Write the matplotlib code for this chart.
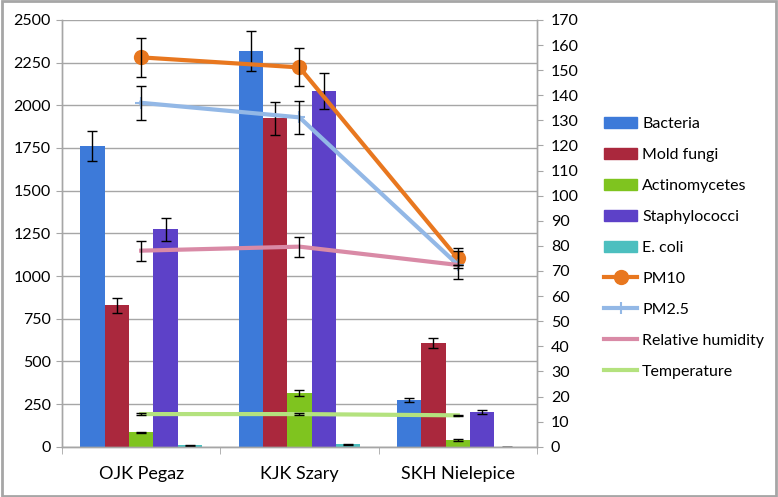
import matplotlib
matplotlib.use("Agg")
import matplotlib.pyplot as plt
from matplotlib.patches import Rectangle
from matplotlib.lines import Line2D
from matplotlib.patches import Patch
import numpy as np

# ---------------------------------------------------------------------------
# Data
# ---------------------------------------------------------------------------
sites = ["OJK Pegaz", "KJK Szary", "SKH Nielepice"]

bar_names = ["Bacteria", "Mold fungi", "Actinomycetes", "Staphylococci", "E. coli"]
bacteria = [1760, 2318, 273]
bacteria_err = [88, 117, 13]
mold_fungi = [828, 1924, 609]
mold_fungi_err = [42, 97, 30]
actinomycetes = [84, 316, 39]
actinomycetes_err = [3, 17, 4]
staphylococci = [1274, 2084, 203]
staphylococci_err = [66, 105, 12]
e_coli = [8, 14, 1]
e_coli_err = [2, 2, 0]

line_names = ["PM10", "PM2.5", "Relative humidity", "Temperature"]
pm10 = [155.1, 151.1, 75.0]
pm10_err = [7.8, 7.6, 4.0]
pm25 = [137.0, 131.2, 72.5]
pm25_err = [6.8, 6.6, 5.5]
humidity = [78.1, 79.7, 72.4]
humidity_err = [4.0, 4.0, 0.0]
temperature = [13.0, 13.0, 12.5]
temperature_err = [0.3, 0.3, 0.3]

bar_colors = ["#3D7AD9", "#AA283D", "#7FC41F", "#5D41C8", "#4CBFBF"]
line_colors = ["#E8771F", "#93B8E6", "#D98AA6", "#B4E27E"]

plt.rcParams["font.family"] = ["Lato", "DejaVu Sans"]
GRID = "#A6A6A6"

fig = plt.figure(figsize=(7.78, 4.97), dpi=100)
ax = fig.add_axes([0.0797, 0.1012, 0.6105, 0.8586])
ax2 = ax.twinx()

x = np.arange(len(sites))
n = len(bar_names)
width = (1 / 1.3) / n
bar_vals = [bacteria, mold_fungi, actinomycetes, staphylococci, e_coli]
bar_errs = [bacteria_err, mold_fungi_err, actinomycetes_err, staphylococci_err, e_coli_err]
for i, (vals, errs) in enumerate(zip(bar_vals, bar_errs)):
    pos = x + (i - (n - 1) / 2) * width
    ax.bar(pos, vals, width, color=bar_colors[i], zorder=2)
    ax.errorbar(pos, vals, yerr=errs, fmt="none", ecolor="black",
                elinewidth=1, capsize=3.5, capthick=1, zorder=3)

ax.set_xlim(-0.5, 2.5)
ax.set_ylim(0, 2500)
ax.set_yticks(np.arange(0, 2501, 250))
ax.yaxis.grid(True, color=GRID, linewidth=1, zorder=0)
ax.set_axisbelow(True)
ax.set_xticks(x)
ax.set_xticklabels(sites, fontsize=13)
ax.set_xticks([-0.5, 0.5, 1.5, 2.5], minor=True)
ax.tick_params(axis="x", which="major", length=0, pad=14)
ax.tick_params(axis="x", which="minor", length=5, color=GRID)
ax.tick_params(axis="y", labelsize=11.5, length=4, color=GRID, pad=4)

line_vals = [pm10, pm25, humidity, temperature]
line_errs = [pm10_err, pm25_err, humidity_err, temperature_err]
markers = ["o", "+", None, None]
msizes = [11, 8, 0, 0]
for i, (vals, errs) in enumerate(zip(line_vals, line_errs)):
    ax2.plot(x, vals, color=line_colors[i], linewidth=3, marker=markers[i],
             markersize=msizes[i], markeredgewidth=1.5 if markers[i] == "+" else 0,
             zorder=3)
    ax2.errorbar(x, vals, yerr=errs, fmt="none", ecolor="black",
                 elinewidth=1, capsize=3.5, capthick=1, zorder=4)
ax2.set_ylim(0, 170)
ax2.set_yticks(np.arange(0, 171, 10))
ax2.tick_params(axis="y", labelsize=11.5, length=4, color=GRID, pad=6)

for a in (ax, ax2):
    a.spines["top"].set_visible(False)
    for s in ("left", "right", "bottom"):
        a.spines[s].set_color(GRID)
        a.spines[s].set_linewidth(1)

handles = [Patch(color=c) for c in bar_colors]
handles += [
    Line2D([], [], color=line_colors[0], linewidth=3, marker="o", markersize=10),
    Line2D([], [], color=line_colors[1], linewidth=3, marker="+", markersize=8, markeredgewidth=1.5),
    Line2D([], [], color=line_colors[2], linewidth=3),
    Line2D([], [], color=line_colors[3], linewidth=3),
]
fig.legend(handles, bar_names + line_names, loc="upper left",
           bbox_to_anchor=(0.768, 0.778), frameon=False, fontsize=11.5,
           handlelength=2.1, handleheight=0.7, handletextpad=0.3,
           labelspacing=1.05, borderaxespad=0)

fig.patches.append(Rectangle((0.002, 0.003), 0.996, 0.994, transform=fig.transFigure,
                             fill=False, edgecolor="#A6A6A6", linewidth=2))

fig.savefig("out.png", dpi=100)
